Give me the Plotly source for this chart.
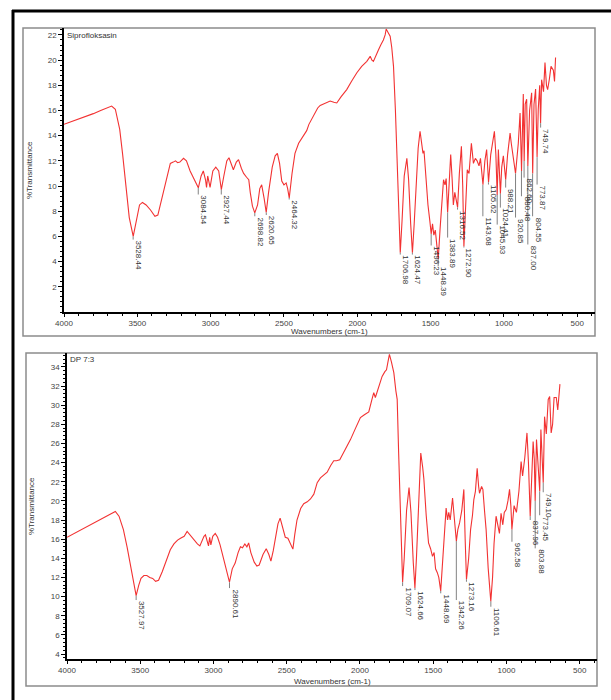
import plotly.graph_objects as go

W, H = 611, 700
FONT = "Liberation Sans, Arial, sans-serif"

# ---------------- Panel 1: Siprofloksasin ----------------
sip_wn = [4000, 3950, 3900, 3850, 3800, 3750, 3700, 3675, 3650, 3620, 3600, 3580, 3555, 3528,
          3505, 3485, 3465, 3440, 3410, 3380, 3360, 3330, 3300, 3275, 3255, 3240, 3225, 3210,
          3185, 3165, 3140, 3110, 3095, 3084, 3065, 3050, 3035, 3028, 3020, 3010, 3004, 2985,
          2965, 2945, 2927, 2910, 2890, 2875, 2860, 2845, 2825, 2810, 2790, 2775, 2755, 2740,
          2730, 2715, 2699, 2680, 2665, 2652, 2635, 2621, 2605, 2580, 2560, 2545, 2530, 2515,
          2500, 2485, 2475, 2464, 2445, 2425, 2400, 2370, 2345, 2330, 2300, 2270, 2253, 2220,
          2185, 2160, 2140, 2110, 2072, 2040, 2003, 1970, 1935, 1912, 1900, 1890, 1870, 1856,
          1840, 1822, 1810, 1803, 1790, 1776, 1765, 1753, 1740, 1730, 1718, 1707, 1695, 1680,
          1662, 1650, 1636, 1624, 1612, 1600, 1585, 1572, 1562, 1552, 1545, 1532, 1518, 1505,
          1496, 1487, 1478, 1468, 1458, 1448, 1436, 1424, 1412, 1402, 1394, 1384, 1374, 1363,
          1353, 1345, 1335, 1325, 1316, 1304, 1290, 1281, 1273, 1263, 1250, 1238, 1222, 1208,
          1195, 1183, 1170, 1160, 1150, 1143, 1130, 1118, 1105, 1090, 1065, 1055, 1046, 1038,
          1024, 1015, 1004, 988, 975, 958, 950, 940, 921, 902, 890, 880, 868, 862, 855, 845,
          837, 825, 811, 804, 795, 784, 774, 766, 756, 750, 743, 730, 720, 710, 702, 690,
          679, 663, 655, 648]
sip_t = [14.9, 15.1, 15.3, 15.55, 15.75, 16.0, 16.25, 16.35, 16.1, 14.5, 12.5, 10.0, 7.5, 6.0,
         7.5, 8.5, 8.7, 8.5, 8.1, 7.6, 7.7, 9.2, 10.8, 11.8, 11.9, 12.0, 11.85, 11.9,
         12.2, 12.0, 11.2, 10.5, 10.1, 9.86, 10.8, 11.2, 10.5, 9.9, 10.8, 10.2, 9.9, 11.2,
         11.5, 11.2, 9.72, 10.8, 12.0, 12.25, 11.8, 11.3, 11.9, 12.1, 11.4, 11.0, 10.7, 10.5,
         9.5, 8.4, 7.87, 8.5, 9.8, 10.1, 9.0, 7.9, 9.5, 11.5, 12.4, 12.6, 11.8, 10.4,
         10.1, 10.25, 9.8, 9.06, 11.0, 12.6, 13.4, 14.0, 14.4, 14.9, 15.6, 16.2, 16.4, 16.6,
         16.75, 16.65, 16.6, 17.1, 17.66, 18.3, 19.0, 19.5, 19.9, 20.3, 20.0, 19.9, 20.5, 20.8,
         21.2, 21.6, 22.0, 22.47, 22.2, 21.9, 21.0, 19.5, 16.0, 12.0, 7.5, 4.7, 7.2, 10.8,
         12.2, 10.5, 7.0, 4.7, 7.0, 10.0, 13.0, 14.35, 13.6, 12.6, 12.8, 10.6, 8.5, 7.2,
         6.2, 7.0, 6.1, 6.5, 5.3, 4.2, 6.5, 9.0, 10.5, 10.1, 10.6, 7.9, 10.5, 12.5,
         10.5, 8.5, 9.5, 9.0, 8.3, 11.0, 13.16, 10.0, 5.2, 7.9, 11.3, 11.0, 13.4, 11.8,
         12.2, 12.0, 11.6, 12.2, 11.2, 10.1, 12.0, 12.9, 10.3, 12.5, 14.35, 12.5, 9.3, 12.9,
         9.4, 11.5, 12.4, 10.5, 12.5, 14.2, 13.4, 12.6, 11.0, 13.4, 15.8, 11.2, 17.3, 12.0, 16.5, 16.9,
         11.6, 16.0, 17.4, 11.0, 16.5, 17.7, 12.3, 16.1, 18.0, 15.0, 18.45, 17.5, 19.8, 18.0, 17.66, 18.5,
         19.5, 19.2, 18.3, 20.2]

sip_peak_wn = [3528.44, 3084.54, 2927.44, 2698.82, 2620.65, 2464.32, 1706.98, 1624.47, 1496.23,
               1448.39, 1383.89, 1316.52, 1272.90, 1143.68, 1105.62, 1045.93, 1024.41, 988.21,
               920.85, 880.48, 862.60, 837.00, 804.55, 773.87, 749.74]
sip_peak_min = [6.0, 9.86, 9.72, 7.87, 7.9, 9.06, 4.7, 4.7, 6.2,
                4.2, 7.9, 8.3, 5.2, 10.1, 10.3, 9.3, 9.4, 10.5,
                11.0, 11.2, 12.0, 11.6, 11.0, 12.3, 15.0]
sip_peak_text = [5.75, 9.33, 9.33, 7.6, 7.7, 8.93, 4.56, 4.56, 5.28,
                 3.63, 5.91, 8.13, 5.12, 7.6, 10.12, 6.94, 8.29, 9.88,
                 7.5, 9.19, 10.67, 5.36, 7.6, 10.12, 14.64]

# ---------------- Panel 2: DP 7:3 ----------------
dp_wn = [4000, 3950, 3900, 3850, 3800, 3750, 3700, 3670, 3645, 3615, 3590, 3565, 3545, 3528,
         3510, 3495, 3475, 3455, 3435, 3415, 3395, 3375, 3350, 3320, 3295, 3270, 3245, 3225,
         3200, 3180, 3160, 3135, 3110, 3093, 3080, 3065, 3055, 3042, 3034, 3026, 3018, 3005,
         2988, 2972, 2955, 2930, 2908, 2891, 2872, 2852, 2832, 2816, 2802, 2786, 2772, 2760,
         2745, 2722, 2704, 2688, 2662, 2640, 2622, 2608, 2592, 2577, 2560, 2545, 2527, 2510,
         2492, 2472, 2458, 2445, 2430, 2405, 2384, 2360, 2338, 2315, 2292, 2270, 2247, 2224,
         2200, 2179, 2160, 2138, 2100, 2065, 2030, 1997, 1970, 1940, 1920, 1906, 1895, 1880,
         1860, 1849, 1830, 1819, 1808, 1799, 1785, 1769, 1755, 1746, 1736, 1726, 1717, 1709,
         1698, 1682, 1665, 1652, 1636, 1625, 1614, 1600, 1585, 1572, 1564, 1548, 1532, 1518,
         1505, 1494, 1484, 1472, 1462, 1449, 1438, 1425, 1412, 1402, 1394, 1384, 1368, 1355,
         1342, 1332, 1320, 1305, 1291, 1282, 1273, 1258, 1245, 1232, 1223, 1212, 1200, 1190,
         1184, 1170, 1161, 1150, 1139, 1125, 1115, 1107, 1095, 1085, 1071, 1060, 1048, 1037,
         1025, 1015, 1002, 990, 979, 970, 963, 948, 932, 915, 900, 890, 875, 860, 850, 838,
         828, 818, 810, 804, 795, 785, 773, 765, 757, 749, 740, 728, 715, 705, 695, 685,
         675, 660, 650, 635]
dp_t = [16.2, 16.6, 17.0, 17.45, 17.85, 18.25, 18.6, 18.9, 18.4, 17.0, 15.2, 13.0, 11.6, 10.1,
        11.2, 11.9, 12.2, 12.2, 12.0, 11.9, 11.6, 11.7, 12.6, 13.8, 14.9, 15.5, 15.9, 16.1,
        16.3, 16.8, 16.4, 15.9, 15.5, 15.3, 15.8, 16.3, 16.45, 15.6, 15.3, 16.2, 15.4, 16.3,
        16.6, 16.2, 15.4, 13.9, 12.5, 11.5, 12.9, 13.5, 14.6, 15.2, 15.1, 15.5, 15.2, 15.6,
        14.6, 13.6, 13.2, 13.3, 14.4, 15.0, 14.4, 13.7, 14.8, 16.2, 17.6, 18.2, 17.2, 16.2,
        16.1, 15.5, 14.96, 16.5, 18.0, 19.2, 19.7, 19.9, 20.2, 20.7, 21.9, 22.4, 22.7, 23.0,
        23.7, 24.2, 24.2, 24.3, 25.4, 26.4, 27.6, 28.7, 29.0, 29.3, 30.5, 31.3, 30.8, 31.5,
        32.6, 33.0, 33.5, 33.7, 34.6, 35.3, 34.5, 33.4, 31.5, 30.6, 25.0, 19.0, 14.0, 11.5,
        14.0, 19.0, 21.4, 18.8, 13.5, 10.9, 14.2, 20.0, 25.0, 23.5, 22.3, 18.5, 15.6, 15.0,
        14.2, 14.6, 12.9, 12.5, 12.0, 10.6, 13.5, 16.6, 19.25, 18.0, 18.8, 18.0, 20.3, 18.0,
        15.8, 17.0, 17.7, 19.0, 21.2, 16.0, 11.8, 14.0, 17.0, 18.5, 20.1, 21.0, 23.4, 21.5,
        20.8, 21.5, 21.2, 19.0, 17.0, 13.0, 10.5, 9.5, 12.0, 15.5, 18.4, 17.5, 16.6, 18.7,
        17.5, 18.8, 19.1, 20.0, 21.2, 19.5, 17.0, 19.5, 18.8, 21.0, 24.1, 22.6, 24.5, 27.1, 24.0, 18.4,
        22.0, 26.2, 24.3, 20.0, 26.4, 24.0, 21.0, 27.45, 25.0, 21.9, 28.8, 27.0, 30.6, 30.9, 27.1, 28.0,
        30.8, 30.8, 29.5, 32.2]

dp_peak_wn = [3527.97, 2890.61, 1709.07, 1624.66, 1448.69, 1342.26, 1273.16, 1106.61,
              962.58, 837.96, 803.88, 773.45, 749.10]
dp_peak_min = [10.1, 11.5, 11.5, 10.9, 10.6, 15.8, 11.8, 9.5, 17.0, 18.4, 20.0, 21.0, 21.9]
dp_peak_text = [9.64, 10.89, 11.1, 10.68, 10.34, 9.64, 11.55, 8.94, 15.73, 18.0, 15.04, 18.5, 20.9]

x_ticks = [4000, 3500, 3000, 2500, 2000, 1500, 1000, 500]
sip_y_ticks = list(range(2, 23, 2))
dp_y_ticks = list(range(4, 35, 2))

RED = "rgb(242,50,50)"
GRAY = "rgb(130,130,130)"


def px(x):
    return x / W


def py(y):
    return 1 - y / H


fig = go.Figure()


def add_panel(wn, t, pk_wn, pk_min, pk_txt, xa, ya):
    fig.add_trace(go.Scatter(x=wn, y=t, mode="lines", line=dict(color=RED, width=1.1),
                             xaxis=xa, yaxis=ya, showlegend=False, hoverinfo="skip"))
    lx, ly = [], []
    for w, a, b in zip(pk_wn, pk_min, pk_txt):
        lx += [w, w, None]
        ly += [a, b, None]
    fig.add_trace(go.Scatter(x=lx, y=ly, mode="lines", line=dict(color=GRAY, width=1),
                             xaxis=xa, yaxis=ya, showlegend=False, hoverinfo="skip"))
    xr = "x" if xa == "x" else "x2"
    yr = "y" if ya == "y" else "y2"
    for w, b in zip(pk_wn, pk_txt):
        fig.add_annotation(x=w, y=b, xref=xr, yref=yr, text=f"{w:.2f}", showarrow=False,
                           textangle=90, xanchor="left", yanchor="top",
                           font=dict(family=FONT, size=8, color="#333"), borderpad=0)


add_panel(sip_wn, sip_t, sip_peak_wn, sip_peak_min, sip_peak_text, "x", "y")
add_panel(dp_wn, dp_t, dp_peak_wn, dp_peak_min, dp_peak_text, "x2", "y2")

axis_common = dict(showgrid=False, zeroline=False, showline=True, linecolor="black",
                   ticks="outside", tickcolor="black", automargin=False,
                   tickfont=dict(family=FONT, size=8, color="#444"))

fig.update_layout(
    width=W, height=H, margin=dict(l=0, r=0, t=0, b=0, pad=0, autoexpand=False),
    paper_bgcolor="white", plot_bgcolor="white",
    xaxis=dict(domain=[px(64), px(595)], range=[4000, 379], anchor="y",
               tickvals=x_ticks, ticklen=3, linewidth=1.5,
               minor=dict(dtick=100, ticklen=2, ticks="outside", tickcolor="black"),
               **axis_common),
    yaxis=dict(domain=[py(312), py(28)], range=[0, 22.55], anchor="x",
               tickvals=sip_y_ticks, ticklen=4, linewidth=1.5,
               minor=dict(dtick=0.4, ticklen=2, ticks="outside", tickcolor="black"),
               **axis_common),
    xaxis2=dict(domain=[px(67), px(597)], range=[4000, 382], anchor="y2",
                tickvals=x_ticks, ticklen=3, linewidth=1.5,
                minor=dict(dtick=100, ticklen=2, ticks="outside", tickcolor="black"),
                **axis_common),
    yaxis2=dict(domain=[py(659), py(353)], range=[3.48, 35.45], anchor="x2",
                tickvals=dp_y_ticks, ticklen=4, linewidth=1.5,
                minor=dict(dtick=0.4, ticklen=2, ticks="outside", tickcolor="black"),
                **axis_common),
)

# frames
fig.add_shape(type="rect", xref="paper", yref="paper", x0=px(23), x1=px(595), y0=py(336), y1=py(28),
              line=dict(color="rgb(140,140,140)", width=1.5), layer="below")
fig.add_shape(type="rect", xref="paper", yref="paper", x0=px(26), x1=px(597), y0=py(686), y1=py(353),
              line=dict(color="rgb(140,140,140)", width=1.5), layer="below")
# outer black border
fig.add_shape(type="line", xref="paper", yref="paper", x0=px(12), x1=px(611), y0=py(11), y1=py(11),
              line=dict(color="black", width=3))
fig.add_shape(type="line", xref="paper", yref="paper", x0=px(13), x1=px(13), y0=py(10), y1=py(700),
              line=dict(color="black", width=3))

tf = dict(family=FONT, size=8, color="#333")
fig.add_annotation(x=px(65), y=py(35), xref="paper", yref="paper", text="Siprofloksasin",
                   showarrow=False, xanchor="left", yanchor="middle", font=tf)
fig.add_annotation(x=px(68), y=py(359), xref="paper", yref="paper", text="DP 7:3",
                   showarrow=False, xanchor="left", yanchor="middle", font=tf)
fig.add_annotation(x=px(329.5), y=py(331), xref="paper", yref="paper", text="Wavenumbers (cm-1)",
                   showarrow=False, xanchor="center", yanchor="middle", font=tf)
fig.add_annotation(x=px(332), y=py(681), xref="paper", yref="paper", text="Wavenumbers (cm-1)",
                   showarrow=False, xanchor="center", yanchor="middle", font=tf)
fig.add_annotation(x=px(29), y=py(170), xref="paper", yref="paper", text="%Transmittance",
                   showarrow=False, textangle=-90, xanchor="center", yanchor="middle", font=tf)
fig.add_annotation(x=px(31), y=py(506), xref="paper", yref="paper", text="%Transmittance",
                   showarrow=False, textangle=-90, xanchor="center", yanchor="middle", font=tf)

fig.write_html("out.html", config={"displayModeBar": False},
               post_script="document.body.style.margin='0';document.body.style.overflow='hidden';")
